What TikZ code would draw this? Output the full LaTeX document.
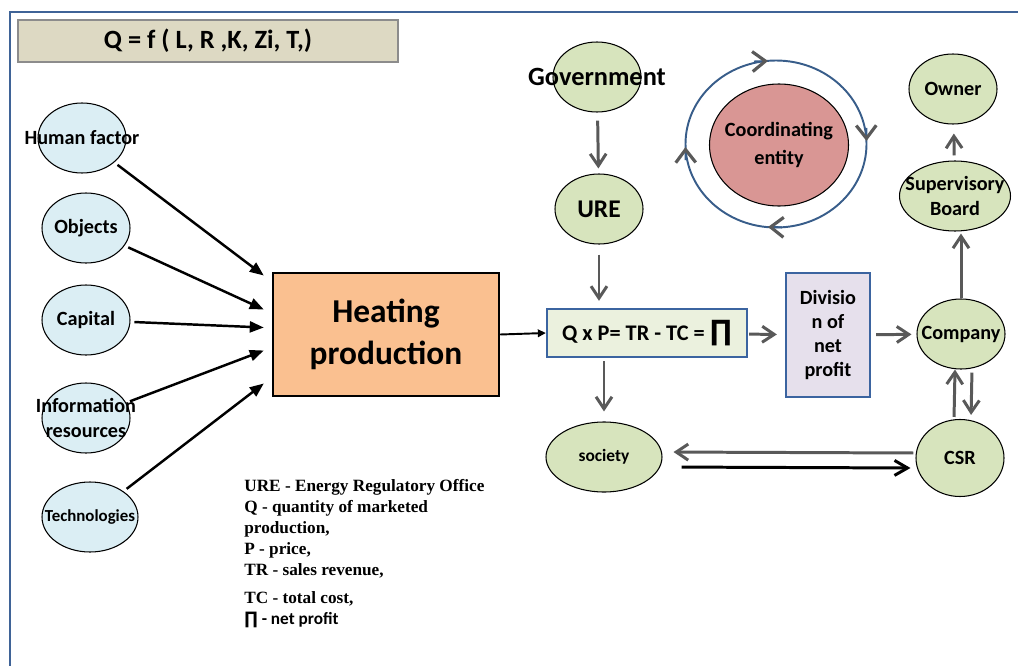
\documentclass[tikz,border=0pt]{standalone}
\usepackage{fontspec}
\setmainfont{Carlito}
\newfontfamily\legendfont{Liberation Serif}
\newfontfamily\symfont{DejaVu Sans}
\usetikzlibrary{arrows.meta,shapes.geometric}
\newdimen\pxu \pxu=0.02cm
\definecolor{frameblue}{HTML}{3F6397}
\definecolor{formulafill}{HTML}{DDD9C3}
\definecolor{formulaedge}{HTML}{8C8C8C}
\definecolor{ovalblue}{HTML}{DBEEF4}
\definecolor{ovalgreen}{HTML}{D7E4BD}
\definecolor{heatfill}{HTML}{FAC090}
\definecolor{qpfill}{HTML}{EBF1DE}
\definecolor{divfill}{HTML}{E6E0EC}
\definecolor{boxblue}{HTML}{3B64A0}
\definecolor{coordfill}{HTML}{D99694}
\definecolor{ringblue}{HTML}{385D8A}
\definecolor{arrowgray}{HTML}{595959}

\begin{document}
\begin{tikzpicture}[
  x=0.02cm, y=-0.02cm,
  oval/.style={ellipse, draw, line width=0.6pt, inner sep=0pt,
               minimum width=88\pxu, minimum height=70\pxu},
  blueoval/.style={oval, fill=ovalblue},
  greenoval/.style={oval, fill=ovalgreen},
  intext/.style={font=\bfseries\fontsize{11.5}{14}\selectfont, align=center},
  bluebox/.style={draw=boxblue, line width=1.3pt, inner sep=0pt},
  feed/.style={-{Triangle[length=2.8mm,width=2.2mm]}, line width=1.4pt,
               shorten <=4\pxu},
  flow/.style={-{Straight Barb[length=2.4mm,width=3.2mm]}, line width=1.7pt,
               draw=arrowgray, shorten <=5\pxu, shorten >=5\pxu},
  ringtip/.tip={Straight Barb[length=2.6mm,width=4mm,line width=1.8pt,color=arrowgray]},
  turning/.style={ringblue, line width=1.1pt, -{ringtip}}
]
\useasboundingbox (0,0) rectangle (1018,666);
% frame
\draw[frameblue, line width=1.7pt] (10,666) -- (10,12) -- (1018,12);

% production function
\node[draw=formulaedge, line width=1.1pt, fill=formulafill, minimum width=380\pxu,
      minimum height=42\pxu, font=\bfseries\fontsize{15}{18}\selectfont] (formula) at (208,41)
      {Q = f ( L, R ,K, Zi, T,)};

% factors
\node[blueoval, label={[intext]center:Human factor}] (human) at (82,138) {};
\node[blueoval, label={[intext]center:Objects}] (objects) at (86,228) {};
\node[blueoval, label={[intext]center:Capital}] (capital) at (86,320) {};
\node[blueoval, label={[intext]center:Information\\resources}] (info) at (86,418) {};
\node[blueoval, minimum width=96\pxu,
      label={[intext, font=\bfseries\fontsize{9.6}{12}\selectfont]center:Technologies}] (tech) at (90,517) {};

\node[draw, line width=1.4pt, fill=heatfill, minimum width=226\pxu, minimum height=123\pxu,
      font=\bfseries\fontsize{19}{24}\selectfont, align=center] (heat) at (386,334.5)
      {Heating\\production};

\draw[feed] (human) -- ([xshift=-8\pxu, yshift=59\pxu]heat.west);
\draw[feed] (objects) -- ([xshift=-8\pxu, yshift=25\pxu]heat.west);
\draw[feed] (capital) -- ([xshift=-8\pxu, yshift=7\pxu]heat.west);
\draw[feed] (info) -- ([xshift=-8\pxu, yshift=-16\pxu]heat.west);
\draw[feed] (tech) -- ([xshift=-8\pxu, yshift=-49\pxu]heat.west);

% profit equation
\node[bluebox, fill=qpfill, minimum width=200\pxu, minimum height=48\pxu,
      font=\bfseries\fontsize{12.7}{15}\selectfont] (qp) at (647,333)
      {Q x P= TR - TC = {\symfont\fontsize{16}{16}\selectfont ∏}};
\draw[-{Triangle[length=1.6mm,width=1.5mm]}, line width=1.1pt] (heat.east) -- (qp.west);

% regulation
\node[greenoval, label={[intext, font=\bfseries\fontsize{15}{18}\selectfont]center:Government}] (gov) at (597,77) {};
\node[greenoval, label={[intext, font=\bfseries\fontsize{14.5}{17}\selectfont]center:URE}] (ure) at (599,209) {};
\draw[flow, shorten <=8\pxu] (gov) -- (ure);
\draw[flow, shorten <=10\pxu, shorten >=7\pxu] (ure) -- (ure |- qp.north);

% coordinating entity
\draw[ringblue, line width=1.1pt] (776,144) ellipse [x radius=90.5, y radius=83.5];
\draw[turning] (754,61.5) -- (768,61);
\draw[turning] (866.3,128) -- (866.5,141);
\draw[turning] (782,227.3) -- (768,227);
\draw[turning] (685.7,160) -- (685.5,147);
\node[ellipse, draw, line width=0.6pt, fill=coordfill, minimum width=139\pxu, minimum height=122\pxu,
      label={[intext, font=\bfseries\fontsize{11.5}{16.4}\selectfont]center:Coordinating\\entity}] (coord) at (779,145) {};

% profit distribution
\node[bluebox, fill=divfill, minimum width=84\pxu, minimum height=124\pxu,
      font=\bfseries\fontsize{11.5}{13.6}\selectfont, align=center] (division) at (828,335)
      {Divisio\\n of\\net\\profit};
\node[greenoval, label={[intext]center:Company}] (company) at (961,334) {};
\node[greenoval, minimum width=111\pxu, label={[intext]center:Supervisory\\Board}] (board) at (955,196) {};
\node[greenoval, label={[intext]center:Owner}] (owner) at (953,89) {};
\node[greenoval, minimum height=77\pxu, label={[intext]center:CSR}] (csr) at (960,458) {};
\node[greenoval, minimum width=116\pxu,
      label={[intext, font=\bfseries\fontsize{9.9}{12}\selectfont]center:society}] (society) at (604,457) {};

\draw[flow, shorten <=1\pxu, shorten >=8\pxu] (qp) -- (division);
\draw[flow] (division) -- (company);
\draw[flow, shorten <=0pt, shorten >=2\pxu] (company.north) -- (company.north |- board.south);
\draw[flow, shorten >=9\pxu] (board) -- (owner);
\draw[flow, shorten <=3\pxu, shorten >=10\pxu] (qp.south -| society) -- (society);
\draw[flow, shorten <=2\pxu, shorten >=0pt] ([xshift=-6\pxu]csr.north) -- ([xshift=-6\pxu]company.south);
\draw[flow, shorten <=3\pxu, shorten >=4\pxu] ([xshift=11\pxu]company.south) -- ([xshift=11\pxu]csr.north);
\draw[flow, shorten <=2\pxu, shorten >=11\pxu] ([yshift=5\pxu]csr.west) -- ([yshift=5\pxu]society.east);
\draw[-{Straight Barb[length=2.6mm,width=3mm]}, line width=1.7pt, shorten <=19\pxu, shorten >=5\pxu]
  ([yshift=-10\pxu]society.east) -- ([yshift=-10\pxu]csr.west);

% legend
\node[anchor=north west, inner sep=0pt, align=left,
      font=\legendfont\bfseries\fontsize{9.8}{11.9}\selectfont] (legend) at (244,479)
  {URE - Energy Regulatory Office\\
   Q - quantity of marketed\\
   production,\\
   P - price,\\
   TR - sales revenue,\\[4.5pt]
   TC - total cost,\\
   {\rmfamily\bfseries{\symfont ∏} - net profit}};
\end{tikzpicture}
\end{document}
